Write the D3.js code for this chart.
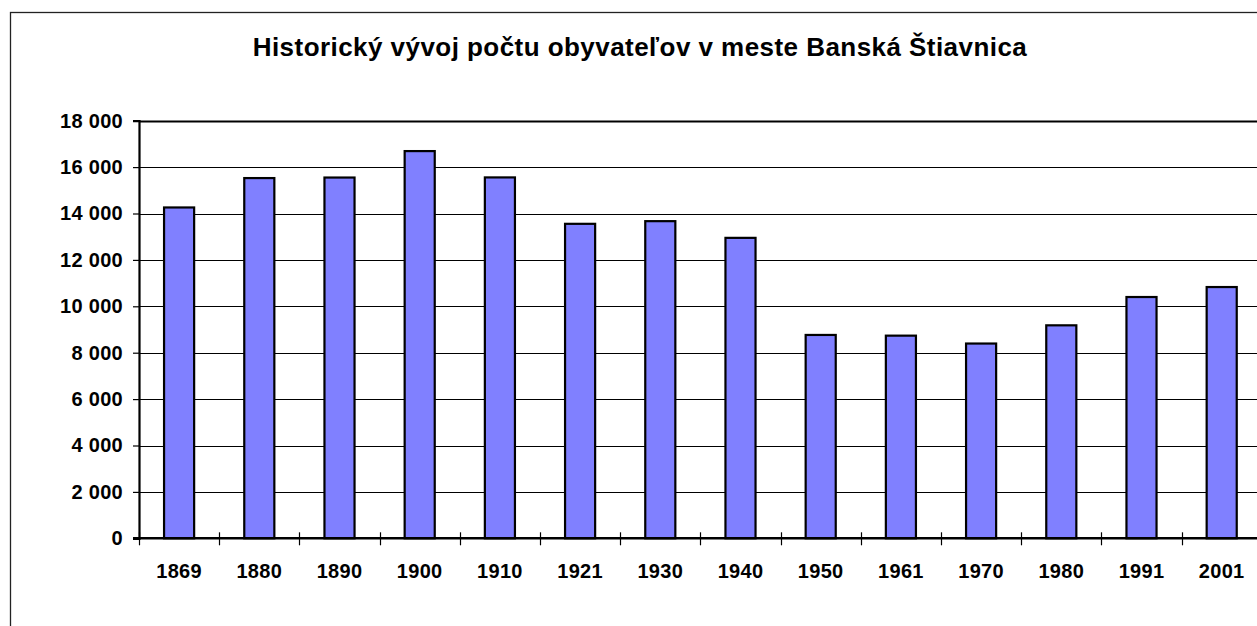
<!DOCTYPE html>
<html>
<head>
<meta charset="utf-8">
<script src="https://cdn.jsdelivr.net/npm/d3@7"></script>
<style>
  body { margin: 0; background: #fff; }
  svg { display: block; font-family: "Liberation Sans", Arial, sans-serif; }
</style>
</head>
<body>
<div id="chart"></div>
<script>
// population of Banská Štiavnica by census year
var years = ["1869", "1880", "1890", "1900", "1910", "1921", "1930", "1940", "1950", "1961", "1970", "1980", "1991", "2001"];
var population = [14260, 15527, 15550, 16690, 15555, 13555, 13670, 12950, 8765, 8735, 8395, 9180, 10400, 10830];
var yTicks = [0, 2000, 4000, 6000, 8000, 10000, 12000, 14000, 16000, 18000];
var title = "Historický vývoj počtu obyvateľov v meste Banská Štiavnica";

var W = 1257, H = 626;
var plot_left = 139, plot_top = 120.7, plot_bottom = 538.3;
var cat_step = 80.2;
var plot_right = plot_left + years.length * cat_step;

var svg = d3.select("#chart").append("svg")
    .attr("width", W)
    .attr("height", H);

// outer chart border (runs off the right and bottom edges)
svg.append("rect")
    .attr("x", 10.5)
    .attr("y", 12.5)
    .attr("width", W + 20)
    .attr("height", H + 20)
    .attr("fill", "none")
    .attr("stroke", "#222")
    .attr("stroke-width", 1.3);

svg.append("text")
    .attr("x", 640)
    .attr("y", 56)
    .attr("text-anchor", "middle")
    .attr("font-weight", "bold")
    .attr("font-size", "26px")
    .attr("letter-spacing", "0.45px")
    .attr("fill", "#000")
    .text(title);

var x = d3.scaleBand()
    .domain(years)
    .range([plot_left, plot_right])
    .paddingInner(0.6)
    .paddingOuter(0.3);

var y = d3.scaleLinear()
    .domain([0, 18000])
    .range([plot_bottom, plot_top]);

var fmt = function(v){
    return d3.format(",")(v).replace(/,/g, " ");
};

// gridlines
svg.append("g").selectAll("line")
    .data(yTicks.filter(function(d){ return d > 0; }))
    .enter().append("line")
    .attr("x1", plot_left)
    .attr("x2", plot_right)
    .attr("y1", function(d){ return Math.round(y(d)) + 0.5; })
    .attr("y2", function(d){ return Math.round(y(d)) + 0.5; })
    .attr("stroke", "#000")
    .attr("stroke-width", function(d){ return d == 18000 ? 2 : 1.2; });

// bars
svg.append("g").selectAll("rect")
    .data(population)
    .enter().append("rect")
    .attr("x", function(d, i){ return x(years[i]) + 1; })
    .attr("y", function(d){ return y(d); })
    .attr("width", x.bandwidth() - 2)
    .attr("height", function(d){ return plot_bottom - y(d); })
    .attr("fill", "#8080FF")
    .attr("stroke", "#000")
    .attr("stroke-width", 2.2);

// y axis
var yAxis = d3.axisLeft(y)
    .tickValues(yTicks)
    .tickSize(6)
    .tickPadding(10)
    .tickFormat(fmt);

var gy = svg.append("g")
    .attr("transform", "translate(" + plot_left + ",0)")
    .call(yAxis);
gy.select(".domain").attr("stroke", "#000").attr("stroke-width", 2.2);
gy.selectAll(".tick line").attr("stroke", "#000").attr("stroke-width", 1.2);
gy.selectAll(".tick text")
    .attr("font-family", "Liberation Sans, Arial, sans-serif")
    .attr("font-size", "20px")
    .attr("letter-spacing", "0.3px")
    .attr("font-weight", "bold")
    .attr("fill", "#000");

// x axis line
svg.append("line")
    .attr("x1", plot_left - 6)
    .attr("x2", plot_right)
    .attr("y1", plot_bottom)
    .attr("y2", plot_bottom)
    .attr("stroke", "#000")
    .attr("stroke-width", 2.4);

// category boundary ticks (cross style)
svg.append("g").selectAll("line")
    .data(d3.range(years.length + 1))
    .enter().append("line")
    .attr("x1", function(i){ return Math.round(plot_left + i * x.step()) + 0.5; })
    .attr("x2", function(i){ return Math.round(plot_left + i * x.step()) + 0.5; })
    .attr("y1", plot_bottom - 6)
    .attr("y2", plot_bottom + 7)
    .attr("stroke", "#000")
    .attr("stroke-width", 1.2);

svg.append("g").selectAll("text")
    .data(years)
    .enter().append("text")
    .attr("x", function(d){ return x(d) + x.bandwidth() / 2; })
    .attr("y", 577.5)
    .attr("text-anchor", "middle")
    .attr("font-size", "20px")
    .attr("letter-spacing", "0.3px")
    .attr("font-weight", "bold")
    .attr("fill", "#000")
    .text(function(d){ return d; });
</script>
</body>
</html>
